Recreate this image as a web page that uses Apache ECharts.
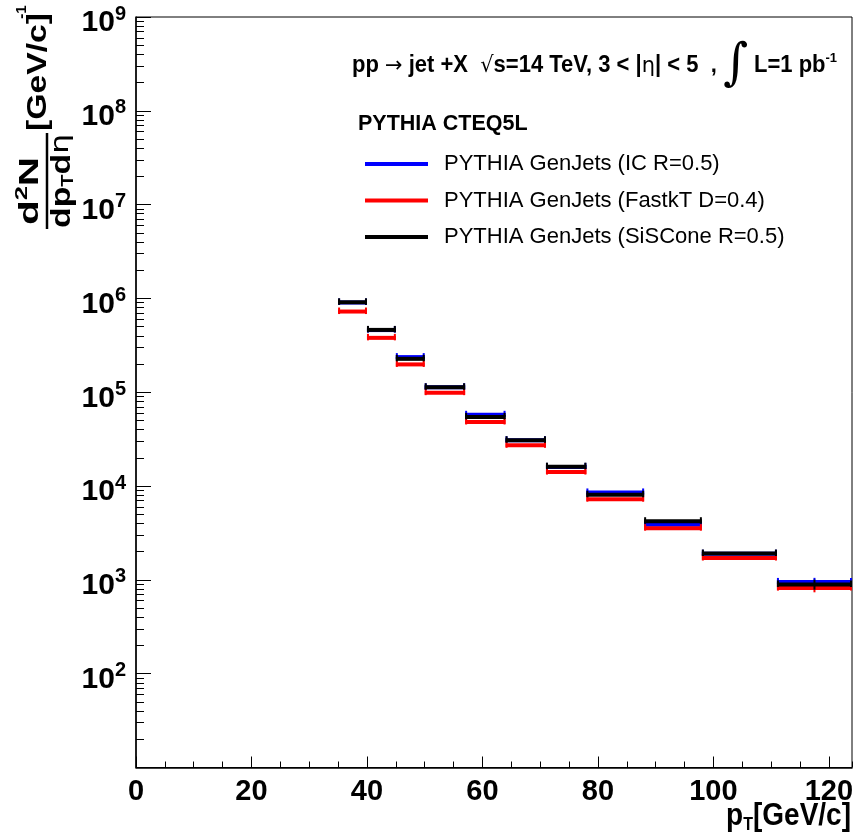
<!DOCTYPE html>
<html><head><meta charset="utf-8">
<script src="https://cdn.jsdelivr.net/npm/echarts@6/dist/echarts.min.js"></script>
<style>html,body{margin:0;padding:0;background:#fff}#c{width:862px;height:839px}</style>
</head><body><div id="c"></div>
<script>
// ---- data ----
const binLow  = [35, 40, 45, 50, 57, 64, 71, 78, 88, 98, 111];
const binHigh = [40, 45, 50, 57, 64, 71, 78, 88, 98, 111, 124];
const seriesNames = ['PYTHIA GenJets (IC R=0.5)', 'PYTHIA GenJets (FastkT D=0.4)', 'PYTHIA GenJets (SiSCone R=0.5)'];
const icValues      = [9.05e5, 4.6e5, 2.37e5, 1.13e5, 5.75e4, 3.08e4, 1.6e4, 8.55e3, 3.87e3, 1.9e3, 951];
const fastktValues  = [7.25e5, 3.8e5, 1.98e5, 9.9e4, 4.82e4, 2.72e4, 1.41e4, 7.25e3, 3.56e3, 1.71e3, 817];
const sisconeValues = [9.1e5, 4.62e5, 2.27e5, 1.13e5, 5.46e4, 3.08e4, 1.61e4, 8.08e3, 4.22e3, 1.91e3, 895];
const icErrors      = [2e3, 1.5e3, 1e3, 7e2, 5e2, 3e2, 2e2, 1.5e2, 1e2, 50, 100];
const fastktErrors  = [2e3, 1.5e3, 1e3, 7e2, 5e2, 3e2, 2e2, 1.5e2, 1e2, 50, 80];
const sisconeErrors = [2e3, 1.5e3, 1e3, 7e2, 5e2, 3e2, 2e2, 1.5e2, 1e2, 50, 110];
const seriesColors = ['#0000ff', '#ff0000', '#000000'];
const xTickLabels = [0, 20, 40, 60, 80, 100, 120];

const FONT = 'Liberation Sans';

function buildData(vals, errs) {
  return vals.map((v, i) => [binLow[i], binHigh[i], v, errs[i]]);
}

function renderBin(color) {
  return function (params, api) {
    const lo = api.value(0), hi = api.value(1), v = api.value(2), e = api.value(3);
    const p1 = api.coord([lo, v]);
    const p2 = api.coord([hi, v]);
    const mid = api.coord([(lo + hi) / 2, v]);
    const eTop = api.coord([(lo + hi) / 2, v + e]);
    const eBot = api.coord([(lo + hi) / 2, Math.max(v - e, 1e-9)]);
    const y = p1[1];
    const st = { stroke: color, lineWidth: 4, lineCap: 'butt' };
    return {
      type: 'group',
      children: [
        { type: 'line', shape: { x1: p1[0], y1: y, x2: p2[0], y2: y }, style: st },
        { type: 'line', shape: { x1: p1[0] + 1, y1: y - 4, x2: p1[0] + 1, y2: y + 2.5 }, style: { stroke: color, lineWidth: 2 } },
        { type: 'line', shape: { x1: p2[0] - 1, y1: y - 4, x2: p2[0] - 1, y2: y + 2.5 }, style: { stroke: color, lineWidth: 2 } },
        { type: 'line', shape: { x1: mid[0], y1: eTop[1], x2: mid[0], y2: eBot[1] }, style: { stroke: color, lineWidth: 2 } }
      ]
    };
  };
}

const valueSets = [icValues, fastktValues, sisconeValues];
const errorSets = [icErrors, fastktErrors, sisconeErrors];

const series = seriesNames.map((name, k) => ({
  name: name,
  type: 'custom',
  xAxisIndex: 0,
  yAxisIndex: 0,
  itemStyle: { color: seriesColors[k] },
  encode: { x: [0, 1], y: 2 },
  data: buildData(valueSets[k], errorSets[k]),
  renderItem: renderBin(seriesColors[k]),
  z: 10 + k
}));

const chart = echarts.init(document.getElementById('c'), null, { renderer: 'canvas' });

const option = {
  animation: false,
  backgroundColor: '#fff',
  color: seriesColors,
  grid: { left: 136, right: 10, top: 17, bottom: 71.5, show: true, borderColor: '#000', borderWidth: 1, backgroundColor: 'transparent' },
  xAxis: [
    {
      type: 'value', min: 0, max: 124, interval: 20, position: 'bottom',
      axisLine: { show: true, onZero: false, lineStyle: { color: '#000', width: 1.5 } },
      axisTick: { show: true, inside: true, length: 11, lineStyle: { color: '#000', width: 1 } },
      splitLine: { show: false },
      axisLabel: {
        margin: 10, color: '#000', fontFamily: FONT, fontWeight: 'bold', fontSize: 29,
        showMaxLabel: false,
        formatter: v => (xTickLabels.indexOf(v) >= 0 ? String(v) : '')
      }
    },
    {
      type: 'value', min: 0, max: 124, interval: 5, position: 'bottom',
      axisLine: { show: false },
      axisTick: { show: true, inside: true, length: 6, lineStyle: { color: '#000', width: 1 } },
      splitLine: { show: false },
      axisLabel: { show: false }
    }
  ],
  yAxis: {
    type: 'log', logBase: 10, min: 10, max: 1e9,
    axisLine: { show: true, onZero: false, lineStyle: { color: '#000', width: 1.5 } },
    axisTick: { show: true, inside: true, length: 15, lineStyle: { color: '#000', width: 1 } },
    minorTick: { show: true, splitNumber: 9, length: 8, lineStyle: { color: '#000', width: 1 } },
    splitLine: { show: false },
    minorSplitLine: { show: false },
    axisLabel: {
      margin: 10, color: '#000', padding: [8, 0, 0, 0],
      formatter: function (v) {
        const l = Math.log10(v);
        const e = Math.round(l);
        if (Math.abs(l - e) > 1e-6 || e < 2) return '';
        return '{b|10}{s|' + e + '}';
      },
      rich: {
        b: { fontFamily: FONT, fontWeight: 'bold', fontSize: 30, lineHeight: 34, verticalAlign: 'bottom', color: '#000' },
        s: { fontFamily: FONT, fontWeight: 'bold', fontSize: 20, lineHeight: 20, verticalAlign: 'top', color: '#000' }
      }
    }
  },
  legend: {
    data: seriesNames,
    orient: 'vertical',
    left: 365, top: 151, padding: 0,
    icon: 'rect', itemWidth: 63, itemHeight: 4, itemGap: 10.5,
    textStyle: { fontFamily: FONT, fontSize: 22, lineHeight: 26, color: '#000', padding: [0, 0, 0, 11] }
  },
  graphic: [
    {
      type: 'text', x: 352, y: 66, scaleY: 1.05,
      style: {
        text: '{b|pp }{g|→}{b| jet +X  }{g|√}{b|s=14 TeV, 3 < |}{g|η}{b|| < 5  , }{i|∫}{b| L=1 pb}{s|-1}',
        align: 'left', verticalAlign: 'middle',
        rich: {
          b: { fontFamily: FONT, fontWeight: 'bold', fontSize: 22, fill: '#000' },
          g: { fontFamily: 'DejaVu Sans', fontSize: 21, fill: '#000' },
          i: { fontFamily: 'DejaVu Serif', fontSize: 48, fill: '#000' },
          s: { fontFamily: FONT, fontWeight: 'bold', fontSize: 13, verticalAlign: 'middle', lineHeight: 13, padding: [0, 0, 15, 0], fill: '#000' }
        }
      }
    },
    {
      type: 'text', x: 358, y: 124,
      style: { text: 'PYTHIA CTEQ5L', fontFamily: FONT, fontWeight: 'bold', fontSize: 21.5, fill: '#000', align: 'left', verticalAlign: 'middle' }
    },
    // y-axis title (rotated)
    {
      type: 'text', x: 29, y: 191, rotation: Math.PI / 2, scaleX: 1.5,
      style: {
        text: '{b|d}{s|2}{b|N}', align: 'center', verticalAlign: 'middle',
        rich: {
          b: { fontFamily: FONT, fontWeight: 'bold', fontSize: 27, lineHeight: 30, verticalAlign: 'bottom', fill: '#000' },
          s: { fontFamily: FONT, fontWeight: 'bold', fontSize: 17, lineHeight: 17, verticalAlign: 'top', fill: '#000' }
        }
      }
    },
    { type: 'line', shape: { x1: 47, y1: 133, x2: 47, y2: 229 }, style: { stroke: '#000', lineWidth: 2.5 } },
    {
      type: 'text', x: 63, y: 181, rotation: Math.PI / 2, scaleX: 1.25,
      style: {
        text: '{b|dp}{t|T}{b|d}{g|η}', align: 'center', verticalAlign: 'middle',
        rich: {
          b: { fontFamily: FONT, fontWeight: 'bold', fontSize: 27, lineHeight: 28, verticalAlign: 'top', fill: '#000' },
          t: { fontFamily: FONT, fontWeight: 'bold', fontSize: 16, lineHeight: 16, verticalAlign: 'bottom', fill: '#000' },
          g: { fontFamily: 'DejaVu Sans', fontSize: 25, lineHeight: 28, verticalAlign: 'top', fill: '#000' }
        }
      }
    },
    {
      type: 'text', x: 39, y: 72, rotation: Math.PI / 2, scaleX: 1.25,
      style: { text: '[GeV/c]', fontFamily: FONT, fontWeight: 'bold', fontSize: 27, fill: '#000', align: 'center', verticalAlign: 'middle' }
    },
    {
      type: 'text', x: 22, y: 12, rotation: Math.PI / 2,
      style: { text: '-1', fontFamily: FONT, fontWeight: 'bold', fontSize: 15, fill: '#000', align: 'center', verticalAlign: 'middle' }
    },
    // x-axis title
    {
      type: 'text', x: 851, y: 817, scaleY: 1.15,
      style: {
        text: '{b|p}{t|T}{b|[GeV/c]}', align: 'right', verticalAlign: 'middle',
        rich: {
          b: { fontFamily: FONT, fontWeight: 'bold', fontSize: 28, lineHeight: 30, verticalAlign: 'top', fill: '#000' },
          t: { fontFamily: FONT, fontWeight: 'bold', fontSize: 16, lineHeight: 16, verticalAlign: 'bottom', fill: '#000' }
        }
      }
    }
  ],
  series: series
};
chart.setOption(option);
</script>
</body></html>
